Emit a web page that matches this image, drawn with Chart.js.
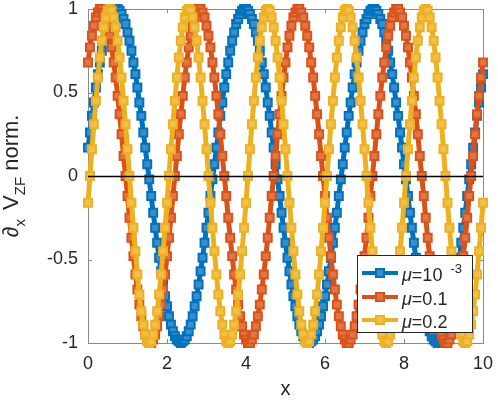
<!DOCTYPE html>
<html>
<head>
<meta charset="utf-8">
<script src="https://cdn.jsdelivr.net/npm/chart.js@4"></script>
<style>
  html, body { margin: 0; padding: 0; background: #fff; }
  #chart { display: block; }
</style>
</head>
<body>
<canvas id="chart" width="498" height="400"></canvas>
<script>
// x positions shared by the three curves
const xValues = [
  0,0.05,0.1,0.15,0.2,0.25,0.3,0.35,0.4,0.45,0.5,0.55,0.6,0.65,0.7,0.75,0.8,0.85,0.9,0.95,
  1,1.05,1.1,1.15,1.2,1.25,1.3,1.35,1.4,1.45,1.5,1.55,1.6,1.65,1.7,1.75,1.8,1.85,1.9,1.95,
  2,2.05,2.1,2.15,2.2,2.25,2.3,2.35,2.4,2.45,2.5,2.55,2.6,2.65,2.7,2.75,2.8,2.85,2.9,2.95,
  3,3.05,3.1,3.15,3.2,3.25,3.3,3.35,3.4,3.45,3.5,3.55,3.6,3.65,3.7,3.75,3.8,3.85,3.9,3.95,
  4,4.05,4.1,4.15,4.2,4.25,4.3,4.35,4.4,4.45,4.5,4.55,4.6,4.65,4.7,4.75,4.8,4.85,4.9,4.95,
  5,5.05,5.1,5.15,5.2,5.25,5.3,5.35,5.4,5.45,5.5,5.55,5.6,5.65,5.7,5.75,5.8,5.85,5.9,5.95,
  6,6.05,6.1,6.15,6.2,6.25,6.3,6.35,6.4,6.45,6.5,6.55,6.6,6.65,6.7,6.75,6.8,6.85,6.9,6.95,
  7,7.05,7.1,7.15,7.2,7.25,7.3,7.35,7.4,7.45,7.5,7.55,7.6,7.65,7.7,7.75,7.8,7.85,7.9,7.95,
  8,8.05,8.1,8.15,8.2,8.25,8.3,8.35,8.4,8.45,8.5,8.55,8.6,8.65,8.7,8.75,8.8,8.85,8.9,8.95,
  9,9.05,9.1,9.15,9.2,9.25,9.3,9.35,9.4,9.45,9.5,9.55,9.6,9.65,9.7,9.75,9.8,9.85,9.9,9.95,
  10
];

// mu = 1e-3 (blue)
const blueValues = [
  0.17,0.26,0.36,0.44,0.53,0.61,0.68,0.75,0.81,0.86,0.91,0.94,0.97,0.99,1.00,
  1.00,0.99,0.97,0.94,0.91,0.86,0.81,0.75,0.68,0.61,0.53,0.44,0.36,0.26,0.17,0.07,-0.02,-0.12,-0.22,-0.31,
  -0.40,-0.49,-0.57,-0.65,-0.72,-0.78,-0.84,-0.89,-0.93,-0.96,-0.98,-0.99,-1.00,-0.99,-0.98,-0.96,-0.93,-0.89,-0.84,-0.78,
  -0.72,-0.65,-0.57,-0.49,-0.40,-0.31,-0.22,-0.12,-0.02,0.07,0.17,0.26,0.36,0.44,0.53,0.61,0.68,0.75,0.81,0.86,
  0.91,0.94,0.97,0.99,1.00,
  1.00,0.99,0.97,0.94,0.91,0.86,0.81,0.75,0.68,0.61,0.53,0.44,0.36,0.26,0.17,0.07,-0.02,-0.12,-0.22,-0.31,
  -0.40,-0.49,-0.57,-0.65,-0.72,-0.78,-0.84,-0.89,-0.93,-0.96,-0.98,-0.99,-1.00,-0.99,-0.98,-0.96,-0.93,-0.89,-0.84,-0.78,
  -0.72,-0.65,-0.57,-0.49,-0.40,-0.31,-0.22,-0.12,-0.02,0.07,0.17,0.26,0.36,0.44,0.53,0.61,0.68,0.75,0.81,0.86,
  0.91,0.94,0.97,0.99,1.00,
  1.00,0.99,0.97,0.94,0.91,0.86,0.81,0.75,0.68,0.61,0.53,0.44,0.36,0.26,0.17,0.07,-0.02,-0.12,-0.22,-0.31,
  -0.40,-0.49,-0.57,-0.65,-0.72,-0.78,-0.84,-0.89,-0.93,-0.96,-0.98,-0.99,-1.00,-0.99,-0.98,-0.96,-0.93,-0.89,-0.84,-0.78,
  -0.72,-0.65,-0.57,-0.49,-0.40,-0.31,-0.22,-0.12,-0.02,0.07,0.17,0.26,0.36,0.44,0.53,0.61
];

// mu = 0.1 (orange)
const orangeValues = [
  0.68,0.77,0.84,0.90,0.95,0.98,1.00,
  1.00,0.98,0.95,0.90,0.84,0.77,0.68,0.59,0.48,0.37,0.25,0.12,0.00,-0.12,-0.25,-0.37,-0.48,-0.59,-0.68,-0.77,
  -0.84,-0.90,-0.95,-0.98,-1.00,-1.00,-0.98,-0.95,-0.90,-0.84,-0.77,-0.68,-0.59,-0.48,-0.37,-0.25,-0.12,0.00,
  0.12,0.25,0.37,0.48,0.59,0.68,0.77,0.84,0.90,0.95,0.98,1.00,
  1.00,0.98,0.95,0.90,0.84,0.77,0.68,0.59,0.48,0.37,0.25,0.12,0.00,-0.12,-0.25,-0.37,-0.48,-0.59,-0.68,-0.77,
  -0.84,-0.90,-0.95,-0.98,-1.00,-1.00,-0.98,-0.95,-0.90,-0.84,-0.77,-0.68,-0.59,-0.48,-0.37,-0.25,-0.12,0.00,
  0.12,0.25,0.37,0.48,0.59,0.68,0.77,0.84,0.90,0.95,0.98,1.00,
  1.00,0.98,0.95,0.90,0.84,0.77,0.68,0.59,0.48,0.37,0.25,0.12,0.00,-0.12,-0.25,-0.37,-0.48,-0.59,-0.68,-0.77,
  -0.84,-0.90,-0.95,-0.98,-1.00,-1.00,-0.98,-0.95,-0.90,-0.84,-0.77,-0.68,-0.59,-0.48,-0.37,-0.25,-0.12,0.00,
  0.12,0.25,0.37,0.48,0.59,0.68,0.77,0.84,0.90,0.95,0.98,1.00,
  1.00,0.98,0.95,0.90,0.84,0.77,0.68,0.59,0.48,0.37,0.25,0.12,0.00,-0.12,-0.25,-0.37,-0.48,-0.59,-0.68,-0.77,
  -0.84,-0.90,-0.95,-0.98,-1.00,-1.00,-0.98,-0.95,-0.90,-0.84,-0.77,-0.68,-0.59,-0.48,-0.37,-0.25,-0.12,0.00,
  0.12,0.25,0.37,0.48,0.59,0.68
];

// mu = 0.2 (yellow)
const yellowValues = [
  -0.16,0.00,0.16,0.31,0.45,0.59,0.71,0.81,0.89,0.95,0.99,
  1.00,0.99,0.95,0.89,0.81,0.71,0.59,0.45,0.31,0.16,0.00,-0.16,-0.31,-0.45,-0.59,-0.71,-0.81,-0.89,-0.95,-0.99,
  -1.00,-0.99,-0.95,-0.89,-0.81,-0.71,-0.59,-0.45,-0.31,-0.16,0.00,0.16,0.31,0.45,0.59,0.71,0.81,0.89,0.95,0.99,
  1.00,0.99,0.95,0.89,0.81,0.71,0.59,0.45,0.31,0.16,0.00,-0.16,-0.31,-0.45,-0.59,-0.71,-0.81,-0.89,-0.95,-0.99,
  -1.00,-0.99,-0.95,-0.89,-0.81,-0.71,-0.59,-0.45,-0.31,-0.16,0.00,0.16,0.31,0.45,0.59,0.71,0.81,0.89,0.95,0.99,
  1.00,0.99,0.95,0.89,0.81,0.71,0.59,0.45,0.31,0.16,0.00,-0.16,-0.31,-0.45,-0.59,-0.71,-0.81,-0.89,-0.95,-0.99,
  -1.00,-0.99,-0.95,-0.89,-0.81,-0.71,-0.59,-0.45,-0.31,-0.16,0.00,0.16,0.31,0.45,0.59,0.71,0.81,0.89,0.95,0.99,
  1.00,0.99,0.95,0.89,0.81,0.71,0.59,0.45,0.31,0.16,0.00,-0.16,-0.31,-0.45,-0.59,-0.71,-0.81,-0.89,-0.95,-0.99,
  -1.00,-0.99,-0.95,-0.89,-0.81,-0.71,-0.59,-0.45,-0.31,-0.16,0.00,0.16,0.31,0.45,0.59,0.71,0.81,0.89,0.95,0.99,
  1.00,0.99,0.95,0.89,0.81,0.71,0.59,0.45,0.31,0.16,0.00,-0.16,-0.31,-0.45,-0.59,-0.71,-0.81,-0.89,-0.95,-0.99,
  -1.00,-0.99,-0.95,-0.89,-0.81,-0.71,-0.59,-0.45,-0.31,-0.16
];

const legendLabels = ['\u03bc=10^-3', '\u03bc=0.1', '\u03bc=0.2'];
const xTicks = [0, 2, 4, 6, 8, 10];
const yTicks = [-1, -0.5, 0, 0.5, 1];
const yTickLabels = ['-1', '-0.5', '0', '0.5', '1'];

const lineColors = ['#0072BD', '#D95319', '#EDB120'];
const fillColors = ['#3a8dcb', '#e07548', '#f0bf4c'];
const FONT = '"Liberation Sans", Arial, Helvetica, sans-serif';
const TEXT = '#262626';
const AXIS = '#8a8a8a';

function makeSet(label, values, i) {
    return {
        label: label,
        data: values,
        borderColor: lineColors[i],
        borderWidth: 5,
        pointStyle: 'rect',
        pointRadius: 5.6,
        pointBorderWidth: 2,
        pointBorderColor: lineColors[i],
        pointBackgroundColor: fillColors[i],
        tension: 0,
        clip: false,
        order: 3 - i   // yellow drawn on top, blue at the bottom
    };
}

// drawing of the axes box, ticks, zero line, labels and legend
const decor = {
    id: 'decor',
    beforeDatasetsDraw(chart) {
        const { ctx, chartArea: a, scales: { x, y } } = chart;
        ctx.save();
        ctx.strokeStyle = AXIS;
        ctx.lineWidth = 1;
        ctx.strokeRect(a.left + 0.5, a.top + 0.5, a.right - a.left, a.bottom - a.top);
        ctx.beginPath();
        xTicks.forEach(v => {
            const px = Math.round(x.getPixelForValue(v)) + 0.5;
            ctx.moveTo(px, a.bottom); ctx.lineTo(px, a.bottom - 4);
            ctx.moveTo(px, a.top); ctx.lineTo(px, a.top + 4);
        });
        yTicks.forEach(v => {
            const py = Math.round(y.getPixelForValue(v)) + 0.5;
            ctx.moveTo(a.left, py); ctx.lineTo(a.left + 4, py);
            ctx.moveTo(a.right, py); ctx.lineTo(a.right - 4, py);
        });
        ctx.stroke();
        ctx.restore();
    },
    afterDatasetsDraw(chart) {
        const { ctx, chartArea: a, scales: { y } } = chart;
        const py = Math.round(y.getPixelForValue(0)) + 0.5;
        ctx.save();
        ctx.strokeStyle = '#000';
        ctx.lineWidth = 1.3;
        ctx.beginPath();
        ctx.moveTo(a.left, py);
        ctx.lineTo(a.right, py);
        ctx.stroke();
        ctx.restore();
    },
    afterDraw(chart) {
        const { ctx, chartArea: a } = chart;
        ctx.save();
        ctx.fillStyle = TEXT;

        // x label
        ctx.font = '20px ' + FONT;
        ctx.textAlign = 'center';
        ctx.textBaseline = 'alphabetic';
        ctx.fillText('x', (a.left + a.right) / 2, 395);

        // y label with subscripts
        const parts = [
            { t: '\u2202', size: 22, dy: 0 },
            { t: 'x', size: 15, dy: 7 },
            { t: ' V', size: 22, dy: 0 },
            { t: 'ZF', size: 15, dy: 7 },
            { t: ' norm.', size: 22, dy: 0 }
        ];
        let total = 0;
        parts.forEach(p => {
            ctx.font = p.size + 'px ' + FONT;
            p.w = ctx.measureText(p.t).width + (p.t === 'x' ? 3 : 0);
            total += p.w;
        });
        ctx.translate(18, (a.top + a.bottom) / 2);
        ctx.rotate(-Math.PI / 2);
        ctx.textAlign = 'left';
        let cx = -total / 2;
        parts.forEach(p => {
            ctx.font = p.size + 'px ' + FONT;
            ctx.fillText(p.t, cx, p.dy);
            cx += p.w;
        });
        ctx.restore();

        // legend box
        ctx.save();
        ctx.fillStyle = '#fff';
        ctx.fillRect(357.5, 255.5, 115, 77);
        ctx.strokeStyle = '#262626';
        ctx.lineWidth = 1;
        ctx.strokeRect(357.5, 255.5, 115, 77);
        const rows = [273, 297, 320];
        legendLabels.forEach((lab, i) => {
            const ly = rows[i];
            ctx.strokeStyle = lineColors[i];
            ctx.lineWidth = 4;
            ctx.beginPath();
            ctx.moveTo(362, ly);
            ctx.lineTo(398, ly);
            ctx.stroke();
            ctx.fillStyle = fillColors[i];
            ctx.fillRect(376, ly - 4, 8, 8);
            ctx.lineWidth = 2;
            ctx.strokeRect(376, ly - 4, 8, 8);

            const [base, sup] = lab.split('^');
            const bl = ly + 8;
            ctx.fillStyle = TEXT;
            ctx.textAlign = 'left';
            ctx.font = 'italic 18px ' + FONT;
            ctx.fillText(base[0], 402, bl);
            let tx = 402 + ctx.measureText(base[0]).width;
            ctx.font = '18px ' + FONT;
            ctx.fillText(base.slice(1), tx, bl);
            tx += ctx.measureText(base.slice(1)).width;
            if (sup) {
                ctx.font = '13px ' + FONT;
                ctx.fillText(sup, tx + 8, bl - 8);
            }
        });
        ctx.restore();
    }
};

new Chart(document.getElementById('chart'), {
    type: 'line',
    data: {
        labels: xValues,
        datasets: [
            makeSet(legendLabels[0], blueValues, 0),
            makeSet(legendLabels[1], orangeValues, 1),
            makeSet(legendLabels[2], yellowValues, 2)
        ]
    },
    options: {
        responsive: false,
        animation: false,
        devicePixelRatio: 1,
        layout: { padding: { top: 9, right: 15, left: 0, bottom: 0 } },
        plugins: { legend: { display: false }, tooltip: { enabled: false } },
        scales: {
            x: {
                type: 'linear',
                min: 0,
                max: 10,
                grid: { display: false, drawTicks: false },
                border: { display: false },
                ticks: { padding: 10, color: TEXT, font: { family: FONT, size: 18 } },
                afterBuildTicks: s => { s.ticks = xTicks.map(v => ({ value: v })); },
                afterFit: s => { s.height = 57; s.paddingLeft = 0; s.paddingRight = 0; }
            },
            y: {
                min: -1,
                max: 1,
                grid: { display: false, drawTicks: false },
                border: { display: false },
                ticks: {
                    padding: 10, color: TEXT, font: { family: FONT, size: 18 },
                    callback: (v) => yTickLabels[yTicks.indexOf(v)]
                },
                afterBuildTicks: s => { s.ticks = yTicks.map(v => ({ value: v })); },
                afterFit: s => { s.width = 88; s.paddingTop = 0; s.paddingBottom = 0; }
            }
        }
    },
    plugins: [decor]
});
</script>
</body>
</html>
